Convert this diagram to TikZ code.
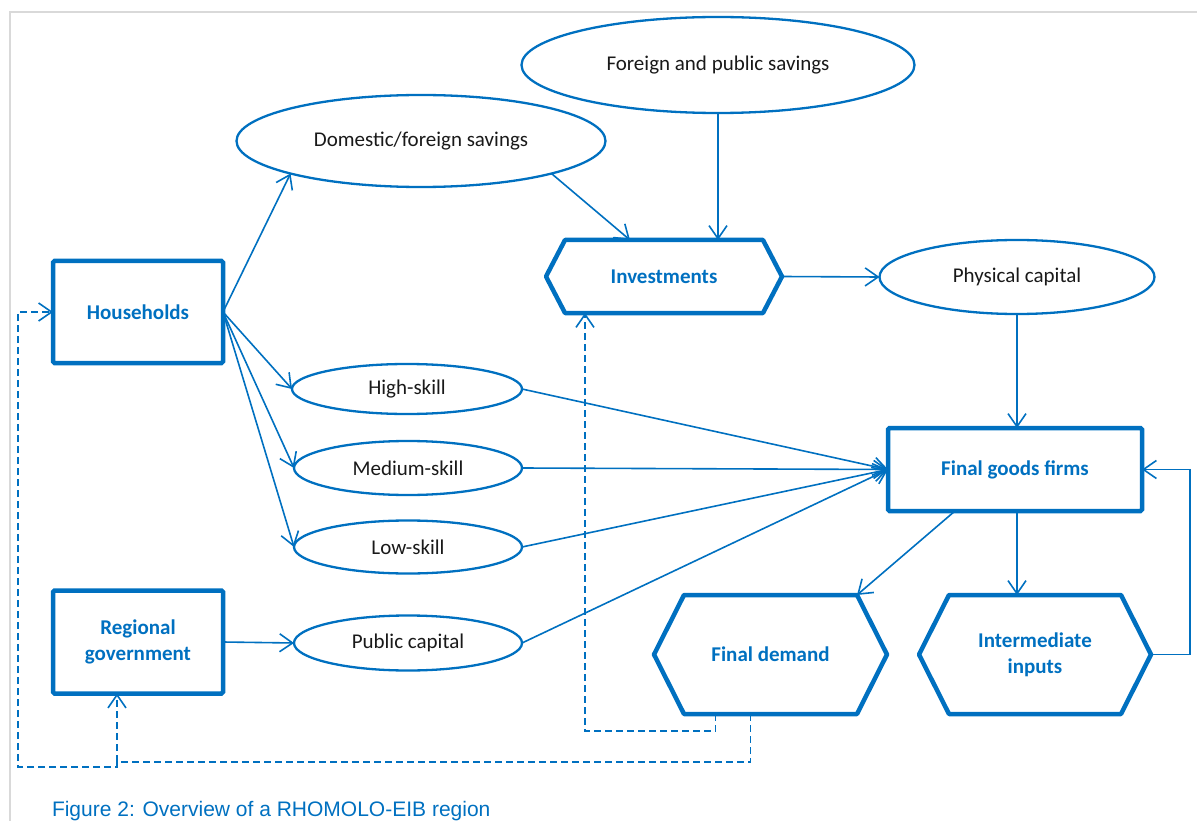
\documentclass[tikz,border=0pt]{standalone}
\usepackage{fontspec}
\setmainfont{Carlito}
\newfontfamily\capfont{Liberation Sans}
\usetikzlibrary{arrows.meta,shapes.geometric}
\definecolor{eibblue}{HTML}{0070C0}
\definecolor{framegrey}{HTML}{D9D9D9}
\newcommand{\drawhex}[2]{\draw[hexline] (#1.west) -- ([xshift=#2]#1.north west) -- ([xshift=-#2]#1.north east) -- (#1.east) -- ([xshift=-#2]#1.south east) -- ([xshift=#2]#1.south west) -- cycle;}
\begin{document}
\begin{tikzpicture}[x=1pt,y=-1pt,
  every node/.style={outer sep=0pt, inner sep=0pt},
  box/.style={draw=eibblue, line width=4.5pt, rounded corners=1.5pt, text=eibblue, font=\fontsize{21}{26}\selectfont\bfseries, align=center},
  oval/.style={ellipse, draw=eibblue, line width=2.3pt, text=black!90, font=\fontsize{21}{26}\selectfont},
  hexnode/.style={text=eibblue, font=\fontsize{21}{26}\selectfont\bfseries, align=center},
  hexline/.style={draw=eibblue, line width=4.5pt, line join=round},
  conn/.style={draw=eibblue, line width=1.6pt, -{Straight Barb[length=13pt,width=18pt]}},
  fb/.style={conn, dash pattern=on 7pt off 4pt},
]
\useasboundingbox (0,0) rectangle (1197,821);
\draw[framegrey, line width=2pt] (10,821) -- (10,12) -- (1197,12);

% ellipses
\node[oval, minimum width=393pt, minimum height=96pt] (fps) at (718,65) {Foreign and public savings};
\node[oval, minimum width=369pt, minimum height=92pt] (dom) at (421,141) {Domestic/foreign savings};
\node[oval, minimum width=275pt, minimum height=74pt] (phys) at (1017,277) {\raisebox{3pt}{Physical capital}};
\node[oval, minimum width=230pt, minimum height=50pt] (hs) at (407,389) {High-skill};
\node[oval, minimum width=228pt, minimum height=54pt] (ms) at (408,468) {Medium-skill};
\node[oval, minimum width=228pt, minimum height=53pt] (ls) at (408,547) {Low-skill};
\node[oval, minimum width=228pt, minimum height=55pt] (pub) at (408,643) {Public capital};

% boxes
\node[box, minimum width=170pt, minimum height=102pt] (hh) at (138,312) {Households};
\node[box, minimum width=170pt, minimum height=103pt] (rg) at (138,642) {Regional\\government};
\node[box, minimum width=254pt, minimum height=83pt] (fg) at (1015,469.5) {Final goods firms};

% hexagons
\node[hexnode, minimum width=236pt, minimum height=73pt] (inv) at (664,276.5) {Investments};
\drawhex{inv}{19}
\node[hexnode, minimum width=233pt, minimum height=119pt] (fd) at (770.5,654.5) {Final demand};
\drawhex{fd}{30}
\node[hexnode, minimum width=232pt, minimum height=119pt] (ii) at (1035,654.5) {Intermediate\\inputs};
\drawhex{ii}{30}

% solid connectors
\draw[conn] (hh.east) -- (dom.south west);
\draw[conn] (hh.east) -- (hs.west);
\draw[conn] (hh.east) -- (ms.west);
\draw[conn] (hh.east) -- (ls.west);
\draw[conn] (dom.south east) -- ([xshift=-34pt]inv.north);
\draw[conn] (fps.south) -- (fps.south |- inv.north);
\draw[conn] (inv.east) -- (phys.west);
\draw[conn] (phys.south) -- (phys.south |- fg.north);
\draw[conn] (hs.east) -- (fg.west);
\draw[conn] (ms.east) -- (fg.west);
\draw[conn] (ls.east) -- (fg.west);
\draw[conn] (pub.east) -- (fg.west);
\draw[conn] (rg.east) -- (pub.west);
\draw[conn] (phys.south |- fg.south) -- (phys.south |- ii.north);
\draw[conn] ([xshift=-60pt]fg.south) -- ([xshift=-30pt]fd.north east);
\draw[conn] (ii.east) -- ++(39,0) |- (fg.east);

% dashed feedback connectors
\draw[fb] ([xshift=-55pt]fd.south) -- ++(0,17) -| ([xshift=-79pt]inv.south);
\coordinate (split) at (117,762);
\draw[fb] ([xshift=-20pt]fd.south) |- (split) -- ([xshift=-21pt]rg.south);
\draw[fb] (split) -- ++(0,5) -- ++(-99,0) |- (hh.west);

% caption
\node[anchor=base west, text=eibblue, font=\capfont\fontsize{21}{25}\selectfont] (cap) at (52,816) {Figure 2: Overview of a RHOMOLO-EIB region};
\end{tikzpicture}
\end{document}
